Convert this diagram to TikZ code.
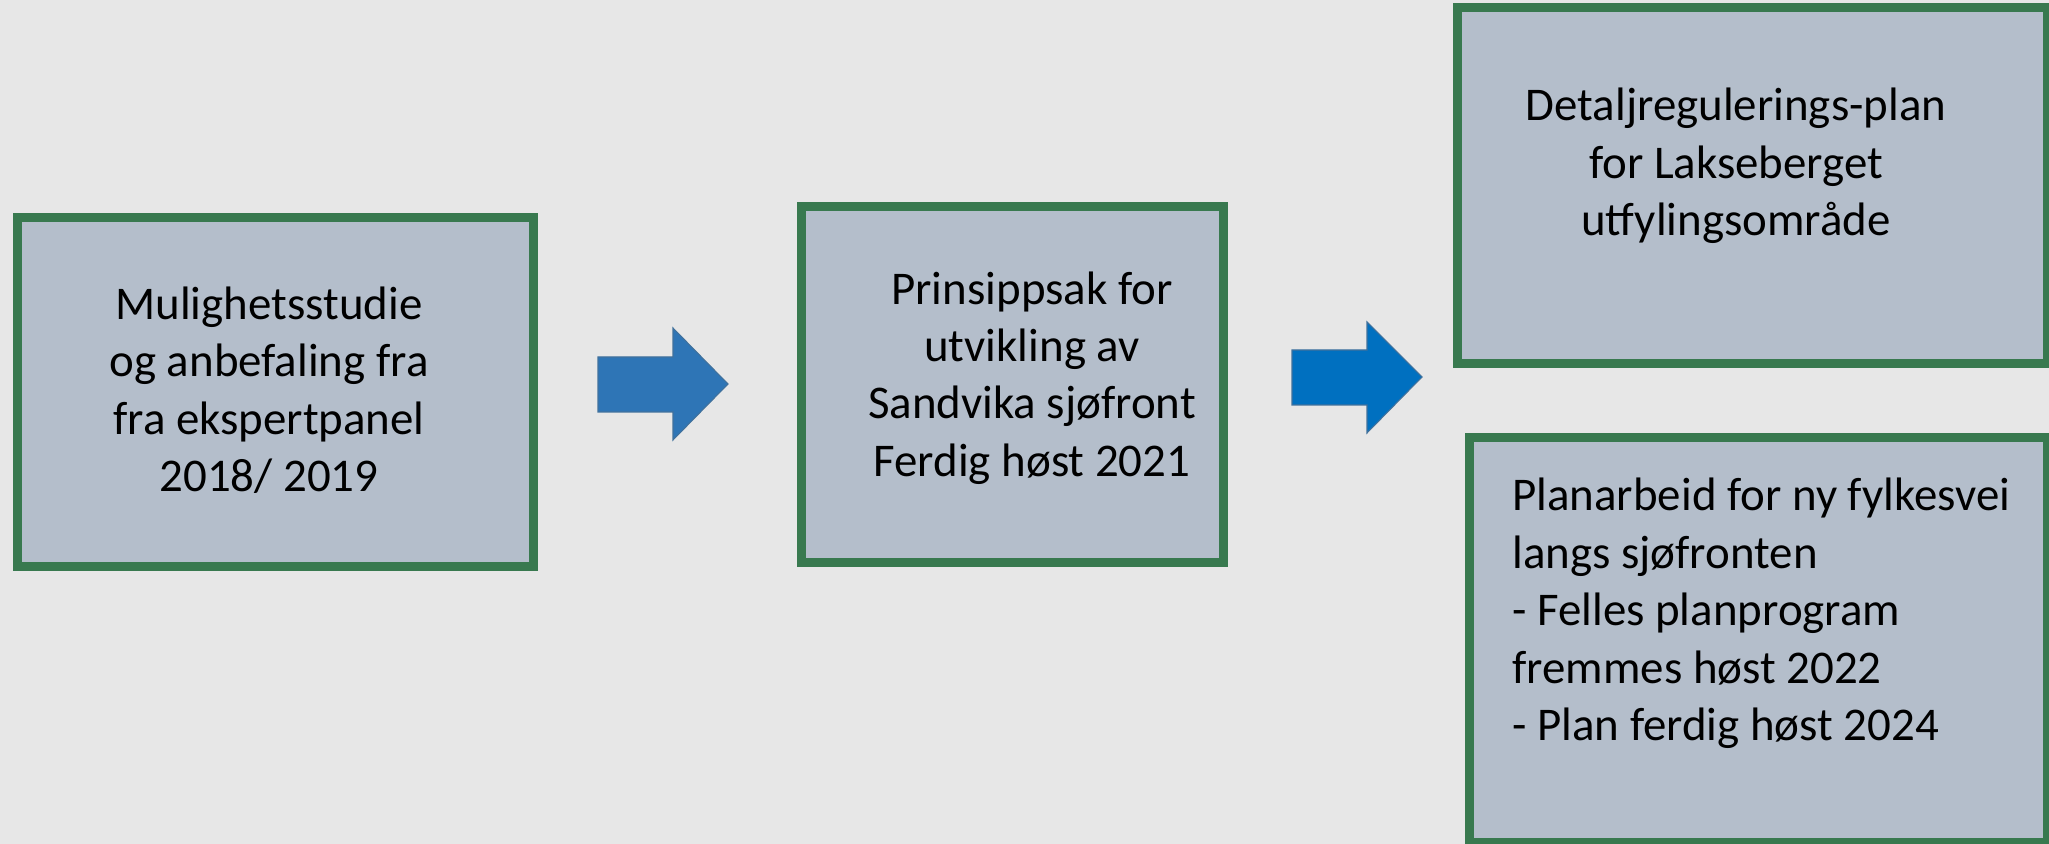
\documentclass[tikz,border=0pt]{standalone}
\usepackage{fontspec}
\setmainfont{Carlito}
\definecolor{bg}{HTML}{E7E7E7}
\definecolor{boxfill}{HTML}{B4BECB}
\definecolor{boxline}{HTML}{38794F}
\definecolor{arrowA}{HTML}{2E75B6}
\definecolor{arrowB}{HTML}{0070C0}
\definecolor{arrowline}{HTML}{41719C}
\begin{document}
\begin{tikzpicture}[x=0.02cm,y=-0.02cm,
    box/.style={draw=boxline,fill=boxfill,line width=0.18cm,inner sep=0pt},
    txt/.style={inner sep=0pt,font=\fontsize{26.7}{32.7}\selectfont},
    blockarrow/.style={fill=#1,draw=arrowline,line width=0.6pt}]
    \fill[bg] (0,0) rectangle (2049,844);
    \useasboundingbox (0,0) rectangle (2049,844);
    % boxes
    \node[box,minimum width=10.32cm,minimum height=6.98cm] (studie) at (275.5,392) {};
    \node[box,minimum width=8.44cm,minimum height=7.12cm] (prinsipp) at (1012.5,384.5) {};
    \node[box,minimum width=11.81cm,minimum height=7.12cm] (detalj) at (1752.75,185.5) {};
    \node[box,minimum width=11.57cm,minimum height=8.1cm] (fylkesvei) at (1758.75,640) {};
    % texts
    \node[txt,align=center] (studietxt) at (269,390) {Mulighetsstudie\\og anbefaling fra\\fra ekspertpanel\\2018/ 2019};
    \node[txt,align=center] (prinsipptxt) at (1032,378) {Prinsippsak for\\utvikling av\\Sandvika sjøfront\\Ferdig høst 2021};
    \node[txt,align=center] (detaljtxt) at (1736,166) {Detaljregulerings-plan\\for Lakseberget\\utfylingsområde};
    \node[txt,align=left,anchor=west] (fylkesveitxt) at (1512,613.5) {Planarbeid for ny fylkesvei\\langs sjøfronten\\- Felles planprogram\\fremmes høst 2022\\- Plan ferdig høst 2024};
    % arrows
    \draw[blockarrow=arrowA] (598,357)--(673,357)--(673,328)--(728,384)--(673,440)--(673,412)--(598,412)--cycle;
    \draw[blockarrow=arrowB] (1292,350)--(1367,350)--(1367,322)--(1422,377)--(1367,433)--(1367,405)--(1292,405)--cycle;
\end{tikzpicture}
\end{document}
